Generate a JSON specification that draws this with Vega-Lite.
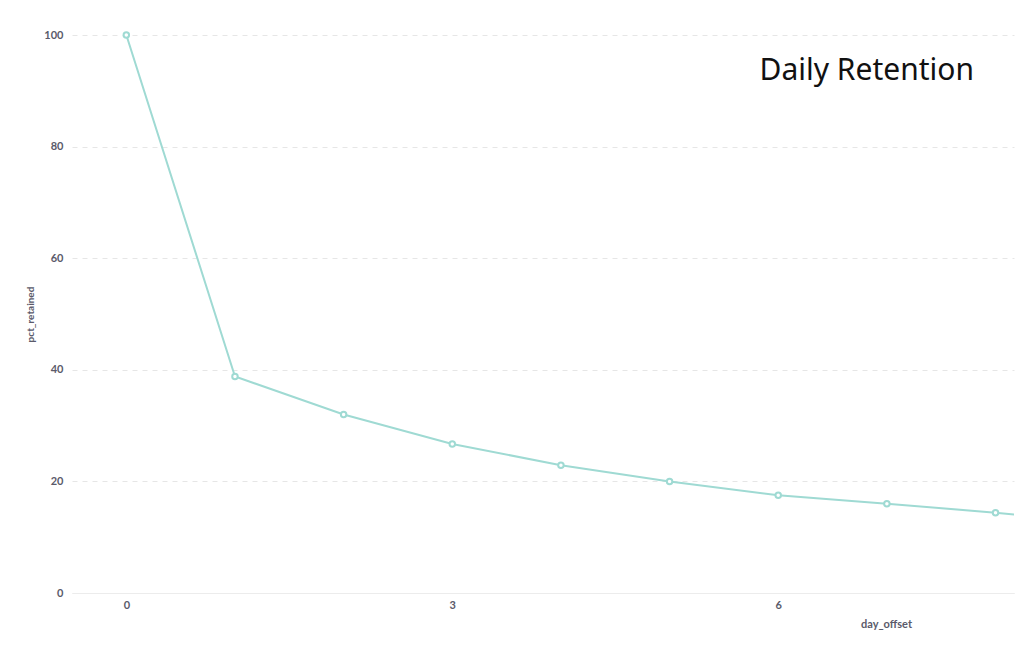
{
  "$schema": "https://vega.github.io/schema/vega-lite/v6.json",
  "autosize": "none",
  "width": 942,
  "height": 558,
  "padding": {"left": 72, "top": 35, "right": 14, "bottom": 55},
  "background": "white",
  "title": {
    "text": "Daily Retention",
    "anchor": "end",
    "frame": "group",
    "orient": "top",
    "font": "Noto Sans",
    "fontSize": 30,
    "fontWeight": "normal",
    "color": "#111111",
    "dx": -40,
    "dy": 62
  },
  "data": {
    "values": [
      {"day_offset": 0, "pct_retained": 100},
      {"day_offset": 1, "pct_retained": 38.8},
      {"day_offset": 2, "pct_retained": 32.0},
      {"day_offset": 3, "pct_retained": 26.7},
      {"day_offset": 4, "pct_retained": 22.9},
      {"day_offset": 5, "pct_retained": 20.0},
      {"day_offset": 6, "pct_retained": 17.5},
      {"day_offset": 7, "pct_retained": 16.0},
      {"day_offset": 8, "pct_retained": 14.4},
      {"day_offset": 9, "pct_retained": 12.4}
    ]
  },
  "encoding": {
    "x": {
      "field": "day_offset",
      "type": "quantitative",
      "scale": {"domain": [-0.5, 8.17], "nice": false, "zero": false},
      "axis": {
        "values": [0, 3, 6],
        "grid": false,
        "ticks": false,
        "domainColor": "#ececec",
        "labelPadding": 6,
        "labelFont": "Lato",
        "labelFontSize": 11,
        "labelFontWeight": "bold",
        "labelColor": "#5a5a6a",
        "title": "day_offset",
        "titleFont": "Lato",
        "titleFontSize": 11,
        "titleFontWeight": "bold",
        "titleColor": "#5a5a6a",
        "titleX": 814,
        "titleAlign": "center",
        "titlePadding": 8
      }
    },
    "y": {
      "field": "pct_retained",
      "type": "quantitative",
      "scale": {"domain": [0, 100], "nice": false},
      "axis": {
        "values": [0, 20, 40, 60, 80, 100],
        "domain": false,
        "ticks": false,
        "gridColor": "#e6e6e6",
        "gridDash": [5, 5],
        "labelPadding": 9,
        "labelFont": "Lato",
        "labelFontSize": 11,
        "labelFontWeight": "bold",
        "labelColor": "#5a5a6a",
        "title": "pct_retained",
        "titleFont": "Lato",
        "titleFontSize": 10,
        "titleFontWeight": "bold",
        "titleColor": "#5a5a6a",
        "titlePadding": 8
      }
    }
  },
  "layer": [
    {
      "mark": {"type": "line", "color": "#9fdad3", "strokeWidth": 2, "clip": true}
    },
    {
      "transform": [{"filter": "datum.day_offset <= 8"}],
      "mark": {"type": "point", "filled": true, "fill": "white", "stroke": "#9fdad3", "strokeWidth": 2, "size": 30, "opacity": 1}
    }
  ],
  "config": {
    "view": {"stroke": null}
  }
}
